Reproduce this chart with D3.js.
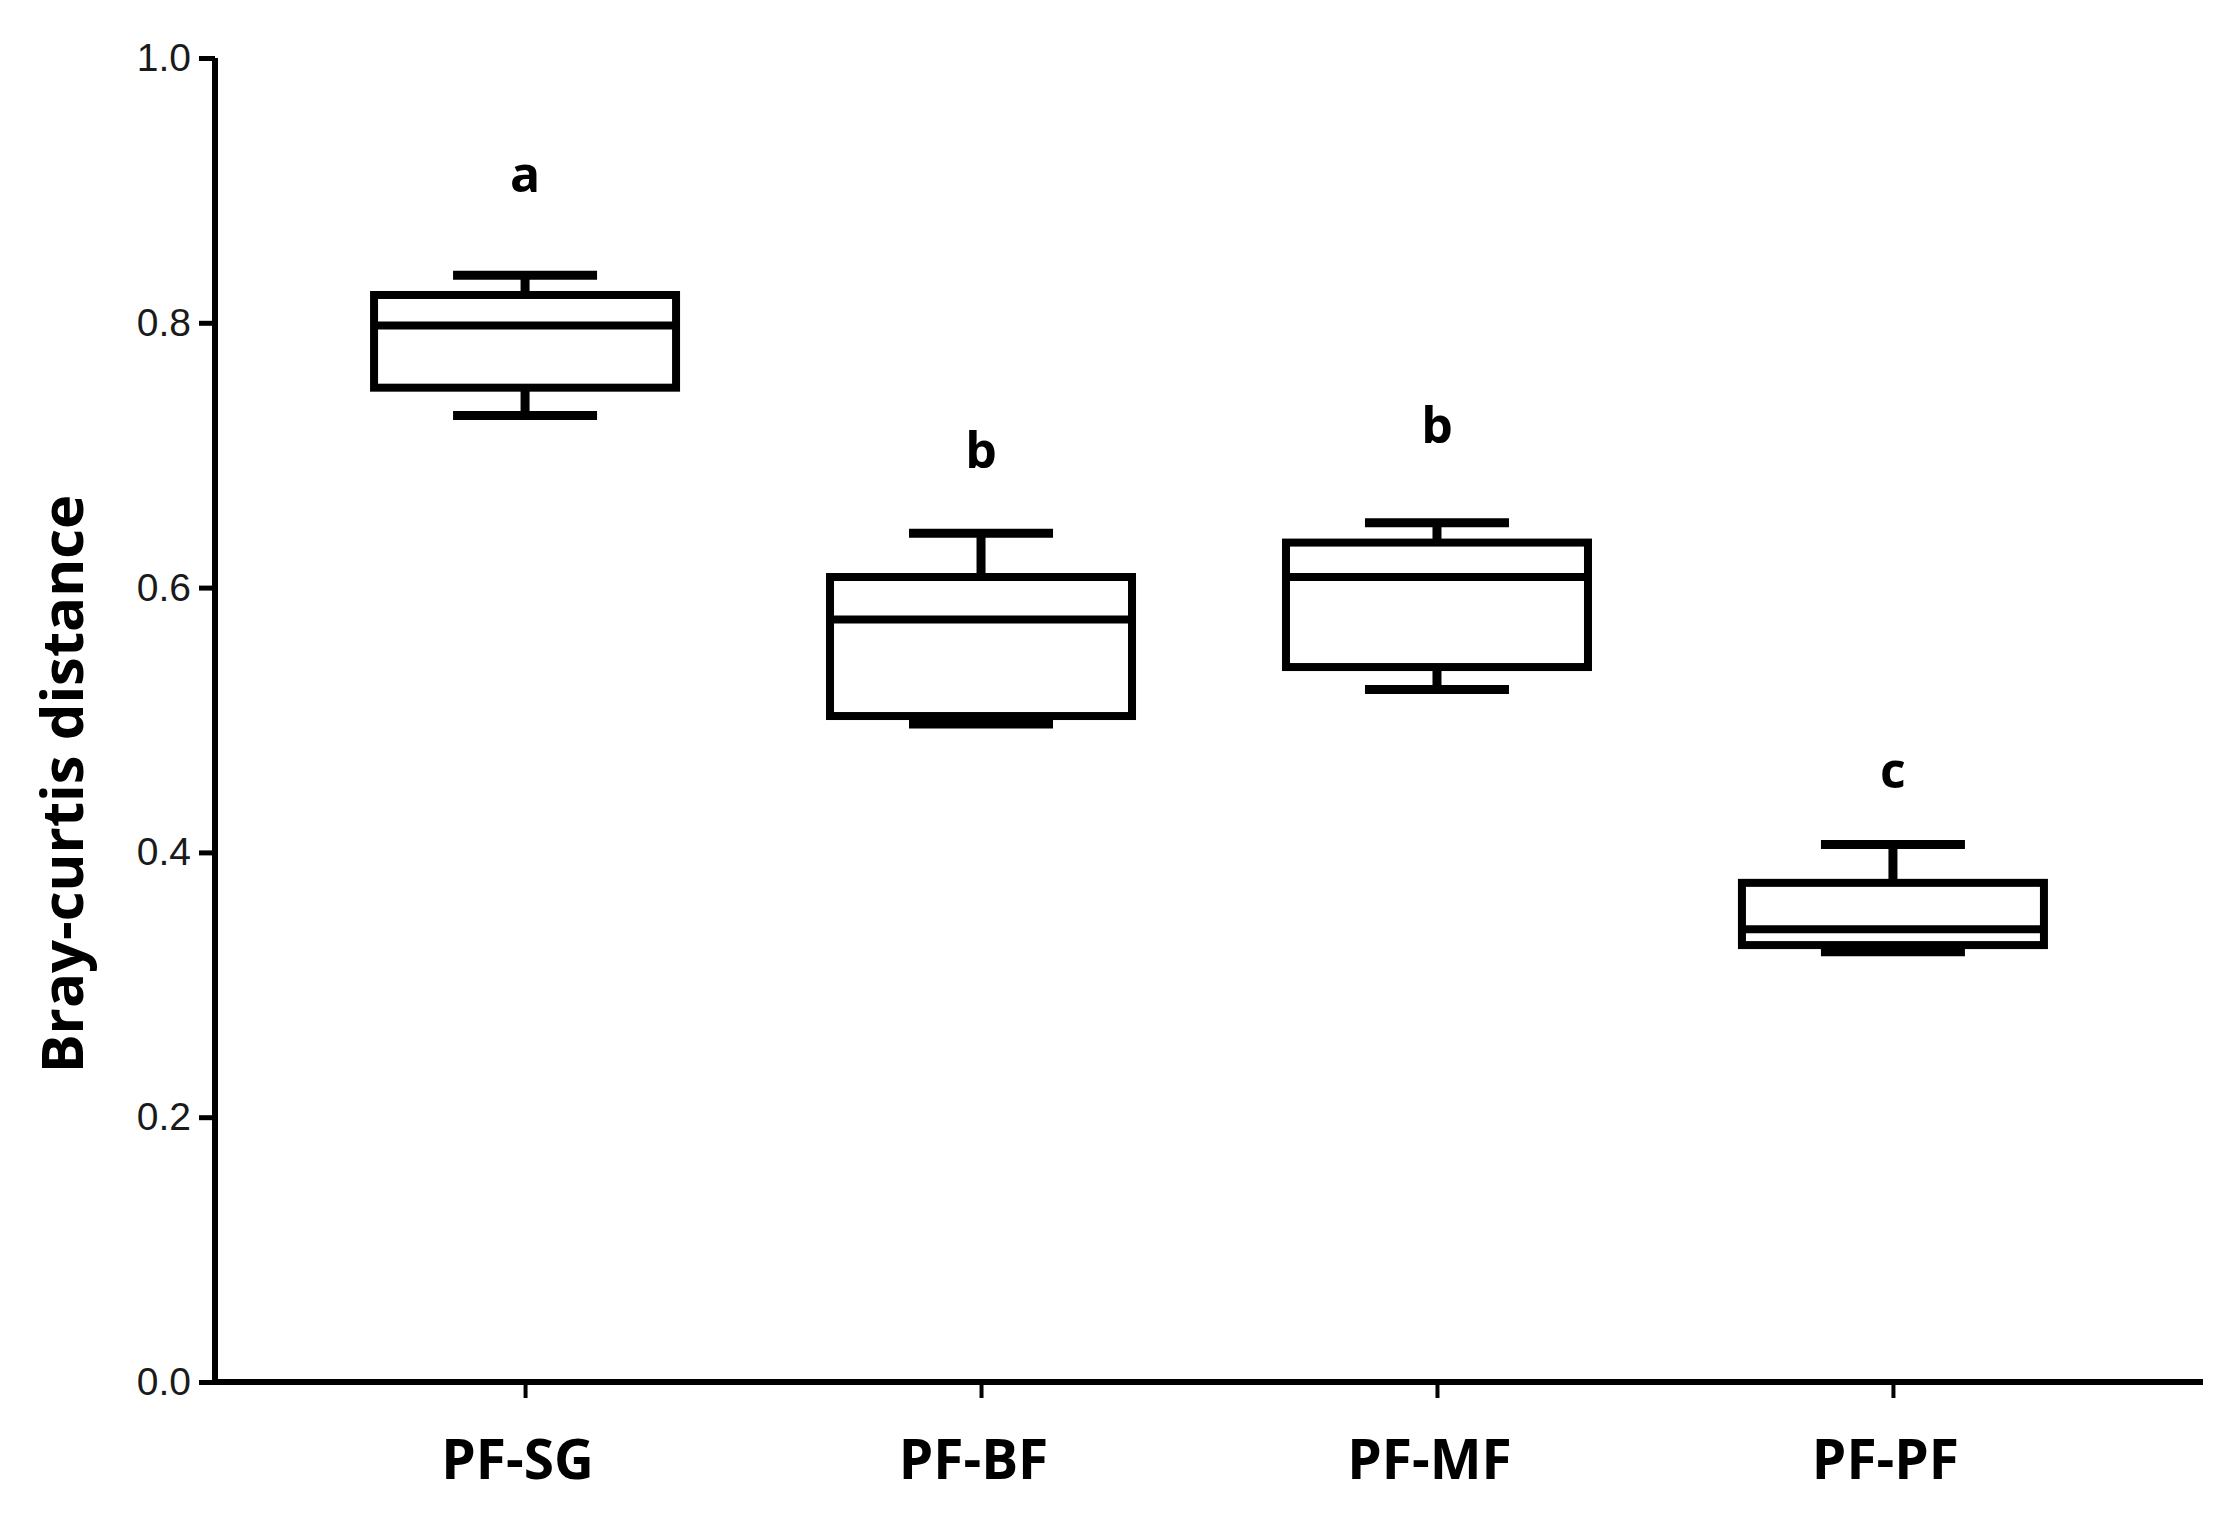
<!DOCTYPE html>
<html>
<head>
<meta charset="utf-8">
<script src="https://cdn.jsdelivr.net/npm/d3@7"></script>
<style>
  body { margin: 0; background: #fff; }
  svg { display: block; }
</style>
</head>
<body>
<script>
// groups along the x axis
var groups = ['PF-SG', 'PF-BF', 'PF-MF', 'PF-PF'];

// five-number summaries
var mins    = [0.730, 0.497, 0.523, 0.325];
var q1s     = [0.751, 0.503, 0.540, 0.330];
var medians = [0.798, 0.576, 0.608, 0.342];
var q3s     = [0.821, 0.608, 0.634, 0.377];
var maxs    = [0.836, 0.641, 0.649, 0.406];

// significance letters and the height they sit at (data units)
var letters = ['a', 'b', 'b', 'c'];
var letterY = [0.899, 0.690, 0.709, 0.449];

var yTicks = [0, 0.2, 0.4, 0.6, 0.8, 1.0];

var width = 2225,
    height = 1530,
    plotLeft = 215,
    plotRight = 2203,
    plotTop = 58,
    plotBottom = 1382,
    boxHalf = 151,
    capHalf = 72;

var svg = d3.select('body').append('svg')
    .attr('width', width)
    .attr('height', height);

var x = d3.scalePoint()
    .domain(groups)
    .range([plotLeft, plotRight])
    .padding(0.68);

var y = d3.scaleLinear()
    .domain([0, 1])
    .range([plotBottom, plotTop]);

var data = groups.map(function (g, i) {
    return {
        name: g, min: mins[i], q1: q1s[i], med: medians[i],
        q3: q3s[i], max: maxs[i], letter: letters[i], ly: letterY[i]
    };
});

// ****************** axes ***************************
var yAxis = svg.append('g')
    .attr('transform', 'translate(' + plotLeft + ',0)')
    .call(d3.axisLeft(y).tickValues(yTicks).tickFormat(d3.format('.1f'))
        .tickSize(16).tickPadding(8));

yAxis.select('.domain')
    .attr('stroke', '#000')
    .attr('stroke-width', 6)
    .attr('d', 'M0,' + plotTop + 'V' + (plotBottom + 3));
yAxis.selectAll('.tick line')
    .attr('stroke', '#000')
    .attr('stroke-width', 5);
yAxis.selectAll('.tick text')
    .attr('fill', '#1a1a1a')
    .style('font-family', '"Liberation Sans", Arial, sans-serif')
    .style('font-size', '39px');

var xAxis = svg.append('g')
    .attr('transform', 'translate(0,' + plotBottom + ')')
    .call(d3.axisBottom(x).tickSize(16).tickPadding(42));

xAxis.select('.domain')
    .attr('stroke', '#000')
    .attr('stroke-width', 6)
    .attr('d', 'M' + (plotLeft - 3) + ',0H' + plotRight);
xAxis.selectAll('.tick line')
    .attr('stroke', '#000')
    .attr('stroke-width', 4);
xAxis.selectAll('.tick text')
    .attr('fill', '#000')
    .attr('dx', -8)
    .attr('dy', '0.71em')
    .style('font-family', '"Open Sans", sans-serif')
    .style('font-weight', 'bold')
    .style('font-size', '55px');

// y axis title
svg.append('text')
    .attr('transform', 'translate(83,784) rotate(-90)')
    .attr('text-anchor', 'middle')
    .style('font-family', '"Open Sans", sans-serif')
    .style('font-weight', 'bold')
    .style('font-size', '58px')
    .text('Bray-curtis distance');

// ****************** boxes ***************************
var box = svg.selectAll('g.box')
    .data(data)
    .enter().append('g')
    .attr('class', 'box')
    .attr('transform', function (d) { return 'translate(' + x(d.name) + ',0)'; });

// whisker stems
box.append('line')
    .attr('x1', 0).attr('x2', 0)
    .attr('y1', function (d) { return y(d.max); })
    .attr('y2', function (d) { return y(d.q3); })
    .attr('stroke', '#000').attr('stroke-width', 9);
box.append('line')
    .attr('x1', 0).attr('x2', 0)
    .attr('y1', function (d) { return y(d.q1); })
    .attr('y2', function (d) { return y(d.min); })
    .attr('stroke', '#000').attr('stroke-width', 9);

// whisker caps
box.append('line')
    .attr('x1', -capHalf).attr('x2', capHalf)
    .attr('y1', function (d) { return y(d.max); })
    .attr('y2', function (d) { return y(d.max); })
    .attr('stroke', '#000').attr('stroke-width', 9);
box.append('line')
    .attr('x1', -capHalf).attr('x2', capHalf)
    .attr('y1', function (d) { return y(d.min); })
    .attr('y2', function (d) { return y(d.min); })
    .attr('stroke', '#000').attr('stroke-width', 9);

box.append('rect')
    .attr('x', -boxHalf)
    .attr('width', boxHalf * 2)
    .attr('y', function (d) { return y(d.q3); })
    .attr('height', function (d) { return y(d.q1) - y(d.q3); })
    .attr('fill', '#fff')
    .attr('stroke', '#000')
    .attr('stroke-width', 8);

box.append('line')
    .attr('x1', -boxHalf).attr('x2', boxHalf)
    .attr('y1', function (d) { return y(d.med); })
    .attr('y2', function (d) { return y(d.med); })
    .attr('stroke', '#000').attr('stroke-width', 8);

box.append('text')
    .attr('y', function (d) { return y(d.ly); })
    .attr('text-anchor', 'middle')
    .style('font-family', '"Open Sans", sans-serif')
    .style('font-weight', 'bold')
    .style('font-size', '50px')
    .text(function (d) { return d.letter; });
</script>
</body>
</html>
